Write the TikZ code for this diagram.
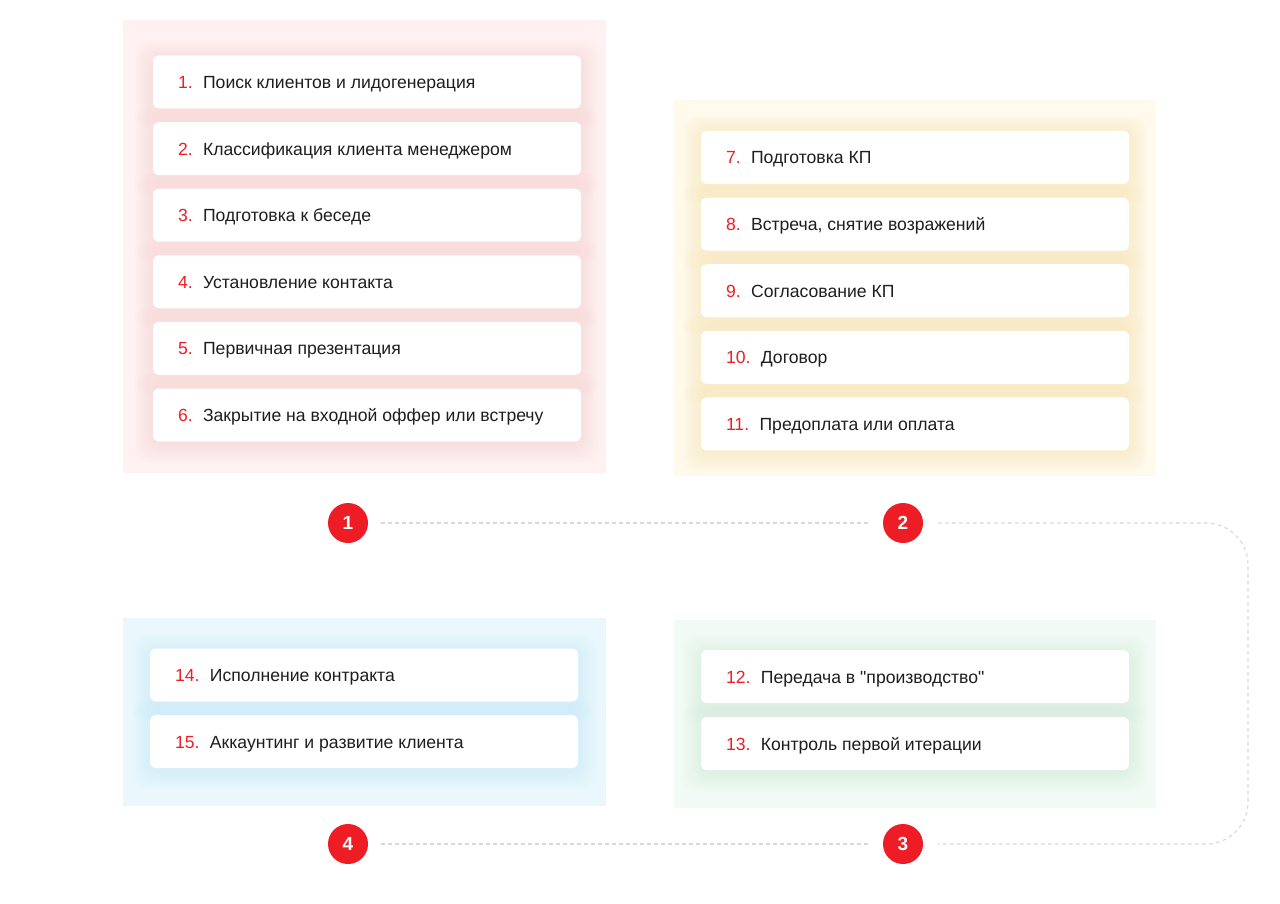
\documentclass[tikz,border=0pt]{standalone}
\usepackage{fontspec}
\setmainfont{Liberation Sans}[Ligatures=TeXOff]
\usetikzlibrary{calc}
\definecolor{redc}{HTML}{EE1D25}
\definecolor{txtc}{HTML}{1E1E1E}
\definecolor{pinkbg}{HTML}{FFF1F1}
\definecolor{pinksh}{HTML}{F9CFCF}
\definecolor{yelbg}{HTML}{FFFAEC}
\definecolor{yelsh}{HTML}{F9E2AA}
\definecolor{bluebg}{HTML}{EAF8FE}
\definecolor{bluesh}{HTML}{C2E9F9}
\definecolor{grnbg}{HTML}{F1FAF4}
\definecolor{grnsh}{HTML}{CDECD6}
\definecolor{dashc}{HTML}{D8D8D8}
\newcommand\glowcard[3]{% center x, center y, colour
  \foreach \g in {18,16,...,2}{%
    \fill[#3, opacity=0.055, rounded corners=14pt]
      (#1-214-\g,#2-26.5-\g+3) rectangle (#1+214+\g,#2+26.5+\g+3);}%
}
\tikzset{
  card/.style={fill=white, rounded corners=6pt, minimum width=428pt, minimum height=53pt, inner sep=0pt},
  numlbl/.style={text=redc, font=\fontsize{17.6}{20}\selectfont, inner sep=0pt, anchor=base west},
  itemlbl/.style={text=txtc, font=\fontsize{17.6}{20}\selectfont, inner sep=0pt, anchor=base west},
  badge/.style={circle, fill=redc, minimum size=40pt, inner sep=0pt, text=white, font=\fontsize{19}{22}\selectfont\bfseries},
  conn/.style={draw=dashc, line width=1.1pt, dash pattern=on 3.5pt off 3.5pt},
}
\newcommand\stepitem[5]{% name, cx, cy, number, text
  \node[card] (#1) at (#2,#3) {};
  \node[numlbl] (#1n) at ($(#1.west)+(25,6.5)$) {#4};
  \node[itemlbl] (#1t) at ($(#1n.base east)+(10,0)$) {#5};
}
\begin{document}
\begin{tikzpicture}[x=1pt,y=-1pt]
\useasboundingbox (0,0) rectangle (1280,904);
\fill[white] (0,0) rectangle (1280,904);
% panels
\fill[pinkbg] (123,20) rectangle (606,473);
\fill[yelbg] (674,100) rectangle (1156,476);
\fill[bluebg] (123,618) rectangle (606,806);
\fill[grnbg] (674,620) rectangle (1156,808);
% glows
\foreach \cy in {82,148.6,215.2,281.8,348.4,415}{\glowcard{367}{\cy}{pinksh}}
\foreach \cy in {157.5,224.1,290.7,357.3,423.9}{\glowcard{915}{\cy}{yelsh}}
\foreach \cy in {675,741.5}{\glowcard{364}{\cy}{bluesh}}
\foreach \cy in {676.5,743.5}{\glowcard{915}{\cy}{grnsh}}
% cards
\stepitem{a1}{367}{82}{1.}{Поиск клиентов и лидогенерация}
\stepitem{a2}{367}{148.6}{2.}{Классификация клиента менеджером}
\stepitem{a3}{367}{215.2}{3.}{Подготовка к беседе}
\stepitem{a4}{367}{281.8}{4.}{Установление контакта}
\stepitem{a5}{367}{348.4}{5.}{Первичная презентация}
\stepitem{a6}{367}{415}{6.}{Закрытие на входной оффер или встречу}
\stepitem{b7}{915}{157.5}{7.}{Подготовка КП}
\stepitem{b8}{915}{224.1}{8.}{Встреча, снятие возражений}
\stepitem{b9}{915}{290.7}{9.}{Согласование КП}
\stepitem{b10}{915}{357.3}{10.}{Договор}
\stepitem{b11}{915}{423.9}{11.}{Предоплата или оплата}
\stepitem{c12}{915}{676.5}{12.}{Передача в "производство"}
\stepitem{c13}{915}{743.5}{13.}{Контроль первой итерации}
\stepitem{d14}{364}{675}{14.}{Исполнение контракта}
\stepitem{d15}{364}{741.5}{15.}{Аккаунтинг и развитие клиента}
% badges
\node[badge] (k1) at (348,523) {1};
\node[badge] (k2) at (903,523) {2};
\node[badge] (k3) at (903,844) {3};
\node[badge] (k4) at (348,844) {4};
\coordinate (tr) at (1248,523);
\coordinate (br) at (1248,844);
% connectors
\draw[conn] ([xshift=13pt]k1.east) -- ([xshift=-15pt]k2.west);
\draw[conn, rounded corners=42pt] ([xshift=15pt]k2.east) -- (tr) -- (br) -- ([xshift=15pt]k3.east);
\draw[conn] ([xshift=13pt]k4.east) -- ([xshift=-15pt]k3.west);
\end{tikzpicture}
\end{document}
